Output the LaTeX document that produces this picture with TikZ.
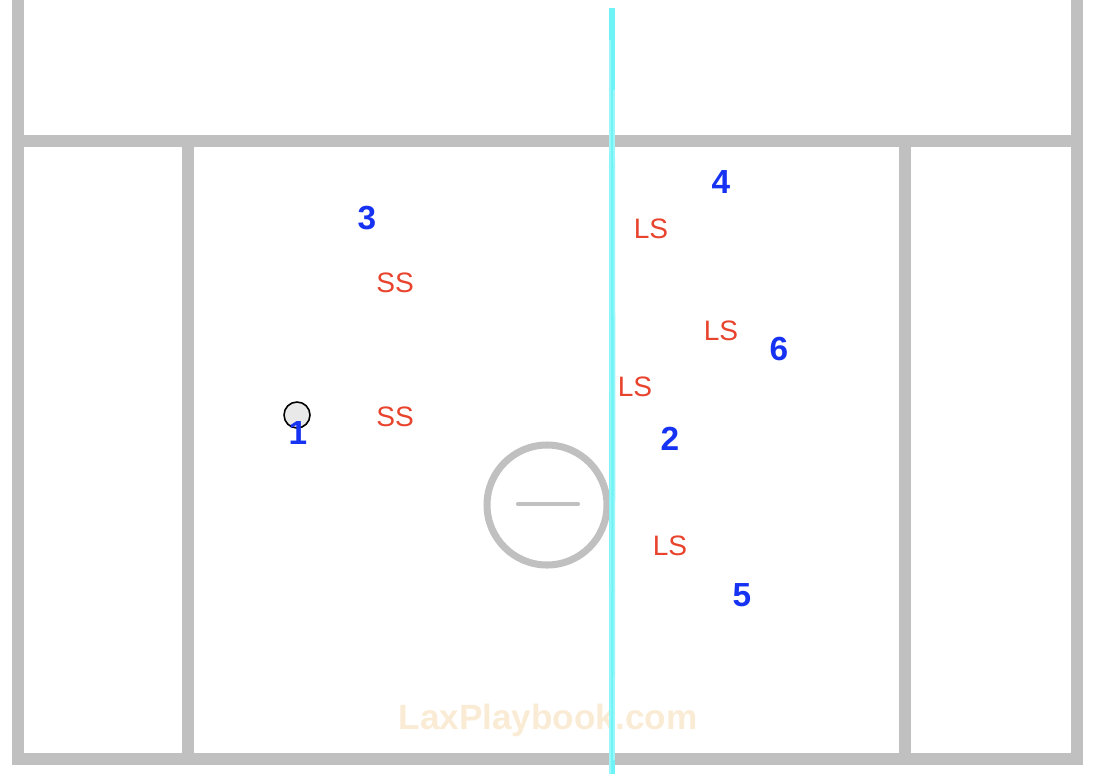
\documentclass[tikz,border=0pt]{standalone}
\usepackage{fontspec}
\setmainfont{Liberation Sans}
\usepackage{tikz}
\usetikzlibrary{arrows.meta}

\definecolor{fieldgray}{HTML}{C0C0C0}
\definecolor{offblue}{HTML}{1632F2}
\definecolor{defred}{HTML}{E8432D}
\definecolor{midcyan}{HTML}{6EF4F7}
\definecolor{markcream}{HTML}{FAEBD5}

\tikzset{
  fieldline/.style={draw=fieldgray, line width=6.3pt},
  attacker/.style={text=offblue, font=\fontsize{19}{19}\selectfont\bfseries, inner sep=0pt},
  defender/.style={text=defred, font=\fontsize{16}{16}\selectfont, inner sep=0pt}
}

\begin{document}
\begin{tikzpicture}[x=0.02cm, y=-0.02cm]
        \useasboundingbox (0,0) rectangle (1094,774);

        % field
        \draw[fieldline] (18,0) -- (18,759) -- (1077,759) -- (1077,0);
        \draw[fieldline] (18,141) -- (1077,141);
        \draw[fieldline] (188,141) -- (188,759);
        \draw[fieldline] (905,141) -- (905,759);

        % faceoff circle
        \draw[fieldgray, line width=4pt] (547,505) circle (60);
        \draw[fieldgray, line width=2.4pt, line cap=round] (518,504) -- (578,504);

        % watermark
        \node[text=markcream, font=\fontsize{20}{20}\selectfont\bfseries, anchor=base] (mark) at (548,729) {LaxPlaybook.com};

        % midline
        \draw[midcyan, line width=3.2pt] (612,8) -- (612,774);
        \draw[midcyan!70, line width=1pt] (610,40) -- (610.5,520) -- (610,774);
        \draw[midcyan!70, line width=1pt] (614,90) -- (614.5,400) -- (614,760);

        % ball
        \node[draw=black, fill=gray!17, circle, line width=0.9pt, minimum size=0.52cm, inner sep=0pt] (ball) at (297,415) {};

        % offense
        \node[attacker] (p1) at (298,433) {1};
        \node[attacker] (p2) at (670,439) {2};
        \node[attacker] (p3) at (367,218) {3};
        \node[attacker] (p4) at (721,182) {4};
        \node[attacker] (p5) at (742,595) {5};
        \node[attacker] (p6) at (779,349) {6};

        % defense
        \node[defender] (ss1) at (395,283) {SS};
        \node[defender] (ss2) at (395,417) {SS};
        \node[defender] (ls1) at (651,229) {LS};
        \node[defender] (ls2) at (721,331) {LS};
        \node[defender] (ls3) at (635,387) {LS};
        \node[defender] (ls4) at (670,546) {LS};
\end{tikzpicture}
\end{document}
